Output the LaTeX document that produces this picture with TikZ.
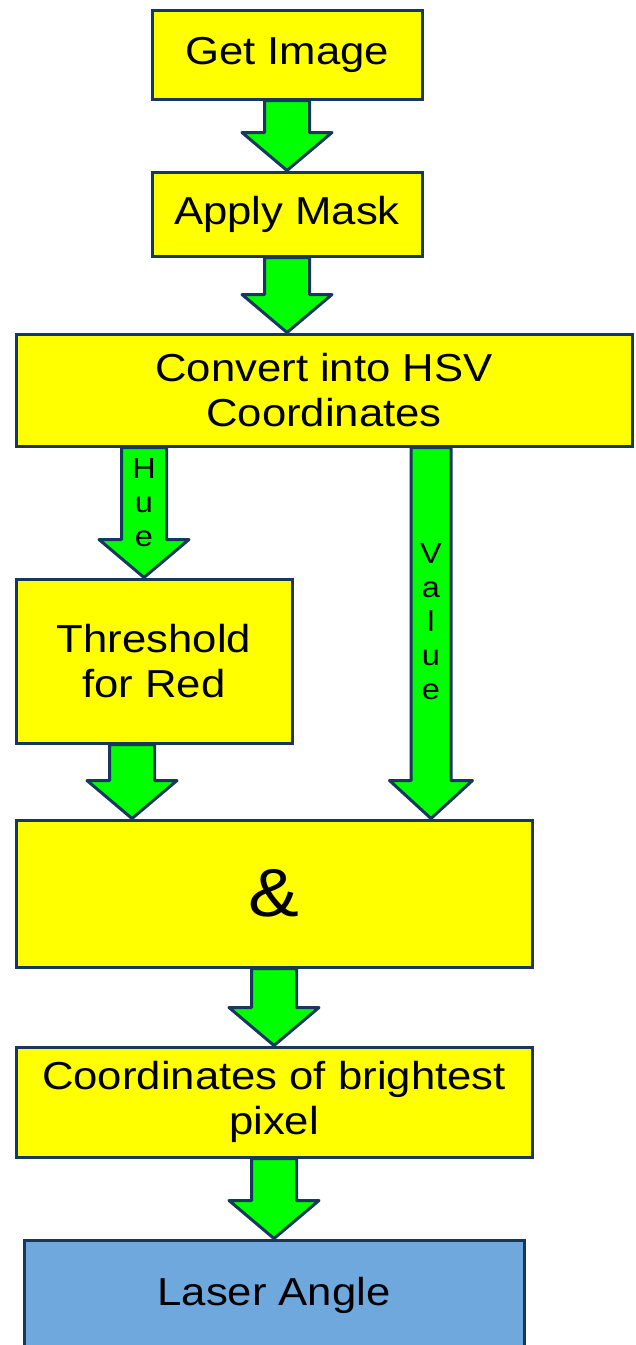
\documentclass[tikz,border=0pt]{standalone}
\usepackage{fontspec}
\setmainfont{Liberation Sans}[FakeStretch=1.12]
\usepackage{tikz}
\usetikzlibrary{calc,positioning}
\definecolor{boxyellow}{RGB}{255,255,0}
\definecolor{flowgreen}{RGB}{0,255,0}
\definecolor{edgeblue}{RGB}{23,55,94}
\definecolor{laserblue}{RGB}{111,168,220}
\def\flowshaft{22.5pt}
\def\flowhead{45pt}
\tikzset{
    flow/.style={
        draw=edgeblue, fill=flowgreen, line width=3pt, line join=round,
        to path={
            let \p1 = (\tikztostart), \p2 = (\tikztotarget) in
            (\x1-\flowshaft,\y1) -- (\x1-\flowshaft,\y2+38pt) -- (\x1-\flowhead,\y2+38pt)
            -- (\x2,\y2) -- (\x1+\flowhead,\y2+38pt) -- (\x1+\flowshaft,\y2+38pt)
            -- (\x1+\flowshaft,\y1) -- cycle
        }
    },
    slim flow/.style={
        flow, /utils/exec={\def\flowshaft{20pt}\def\flowhead{41.5pt}}
    }
}

\begin{document}
\begin{tikzpicture}[
        x=1pt, y=-1pt,
        box/.style={
            draw=edgeblue, fill=boxyellow, line width=3pt,
            rectangle, inner sep=0pt, align=center,
            font=\fontsize{39}{45}\selectfont
        },
        vlabel/.style={
            inner sep=0pt, align=center, anchor=north,
            font=\fontsize{29}{34}\selectfont
        }
      ]
    \useasboundingbox (0,0) rectangle (635,1345);

    \node[box, minimum width=270pt, minimum height=89pt]  (get)   at (287,54.5)  {Get Image};
    \node[box, minimum width=270pt, minimum height=84pt]  (mask)  at (287,214)   {Apply Mask};
    \node[box, minimum width=616pt, minimum height=112pt] (conv)  at (324,390)   {Convert into HSV\\Coordinates};
    \node[box, minimum width=276pt, minimum height=164pt] (thr)   at (154,661)   {Threshold\\for Red};
    \node[box, minimum width=516pt, minimum height=147pt,
          font=\fontsize{68}{70}\selectfont]              (and)   at (274,893.5) {\&};
    \node[box, minimum width=516pt, minimum height=110pt] (coord) at (274,1102)  {Coordinates of brightest\\pixel};
    \node[box, fill=laserblue, minimum width=500pt,
          minimum height=110pt]                           (laser) at (274,1295)  {Laser Angle};

    \coordinate (huetip)  at ([xshift=-10pt]thr.north);
    \coordinate (valtip)  at ([xshift=157pt]and.north);
    \coordinate (thrfoot) at ([xshift=-22pt]thr.south);

    \draw[flow] (get.south) to (mask.north);
    \draw[flow] (mask.south) to (mask.south |- conv.north);
    \draw[flow] (conv.south -| huetip) to (huetip);
    \draw[slim flow] (conv.south -| valtip) to (valtip);
    \draw[flow] (thrfoot) to (thrfoot |- and.north);
    \draw[flow] (and.south) to (coord.north);
    \draw[flow] (coord.south) to (laser.north);

    \node[vlabel] (hue) at (144,458) {H\\u\\e};
    \node[vlabel] (val) at (431,543) {V\\a\\l\\u\\e};

\end{tikzpicture}
\end{document}
